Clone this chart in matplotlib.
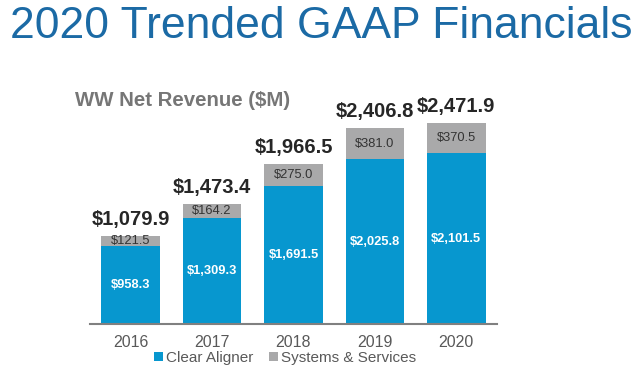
import matplotlib
matplotlib.use("Agg")
import matplotlib.pyplot as plt
import numpy as np

years = ["2016", "2017", "2018", "2019", "2020"]
clear_aligner = [958.3, 1309.3, 1691.5, 2025.8, 2101.5]
systems_services = [121.5, 164.2, 275.0, 381.0, 370.5]
totals = [1079.9, 1473.4, 1966.5, 2406.8, 2471.9]

plt.rcParams['font.family'] = ['Liberation Sans', 'DejaVu Sans']

BLUE = "#0797CF"
GRAY = "#A9A9AA"

fig = plt.figure(figsize=(6.4, 3.71), dpi=100)
fig.patch.set_facecolor("white")
ax = fig.add_axes([90/640, (371-324)/371, 407/640, (324-80)/371])

x = np.arange(len(years))
w = 0.72
ax.bar(x, clear_aligner, width=w, color=BLUE, label="Clear Aligner")
ax.bar(x, systems_services, width=w, bottom=clear_aligner, color=GRAY, label="Systems & Services")

for i in range(len(years)):
    ax.text(x[i], clear_aligner[i]/2, f"${clear_aligner[i]:,.1f}", ha="center", va="center",
            color="white", fontsize=9.3, fontweight="bold")
    ax.text(x[i], clear_aligner[i] + systems_services[i]/2, f"${systems_services[i]:,.1f}",
            ha="center", va="center", color="#333333", fontsize=9.3)
    ax.text(x[i], totals[i] + 85, f"${totals[i]:,.1f}", ha="center", va="bottom",
            color="#262626", fontsize=14.5, fontweight="bold")

ax.set_xlim(-0.5, 4.5)
ax.set_ylim(0, 3000)
ax.set_xticks(x)
ax.set_xticklabels(years, fontsize=11.5, color="#595959")
ax.tick_params(axis="x", length=0, pad=8)
ax.set_yticks([])
for s in ["top", "right", "left"]:
    ax.spines[s].set_visible(False)
ax.spines["bottom"].set_color("#808080")
ax.spines["bottom"].set_linewidth(1.5)

fig.text(10/640, 1 - 27/371, "2020 Trended GAAP Financials", fontsize=32, color="#1B6AA5",
         ha="left", va="center")
fig.text(75/640, 1 - 100/371, "WW Net Revenue ($M)", fontsize=14.7, color="#767676",
         fontweight="bold", ha="left", va="center")

leg = fig.legend(loc="center", bbox_to_anchor=(285/640, 1 - 358/371), ncol=2, frameon=False,
                 fontsize=11, handlelength=0.6, handleheight=0.6, handletextpad=0.2,
                 columnspacing=1.0)
for t in leg.get_texts():
    t.set_color("#595959")

fig.savefig("out.png", dpi=100, facecolor="white")
